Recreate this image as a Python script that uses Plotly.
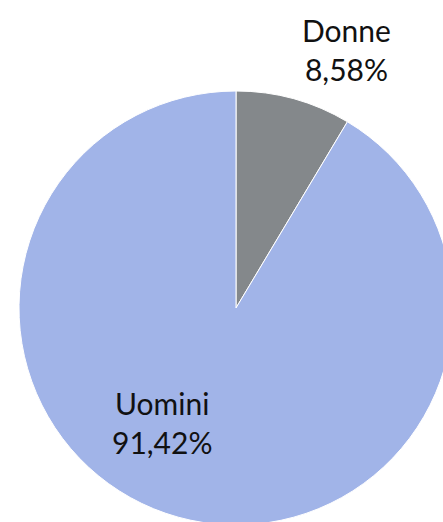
import plotly.graph_objects as go

labels = ["Donne", "Uomini"]
values = [8.58, 91.42]
colors = ["#84888b", "#a1b4e8"]
label_text = ["Donne<br>8,58%", "Uomini<br>91,42%"]

# Figure is larger than the viewport so the pie can overflow the edges like the reference
W, H = 472, 616
cx, cy, r = 236, 308, 217

fig = go.Figure(go.Pie(
    labels=labels,
    values=values,
    sort=False,
    direction="clockwise",
    rotation=0,
    marker=dict(colors=colors, line=dict(color="white", width=1)),
    textinfo="none",
    hoverinfo="label+percent",
    domain=dict(x=[(cx - r) / W, (cx + r) / W], y=[1 - (cy + r) / H, 1 - (cy - r) / H]),
    showlegend=False,
))

font = dict(family="Lato, 'Open Sans', sans-serif", size=30, color="#111111")
positions = [(346, 49), (162, 422)]
for txt, (px, py) in zip(label_text, positions):
    fig.add_annotation(x=px / W, y=1 - py / H, xref="paper", yref="paper",
                       text=txt, showarrow=False, font=font,
                       xanchor="center", yanchor="middle", align="center")

fig.update_layout(width=W, height=H, margin=dict(l=0, r=0, t=0, b=0),
                  paper_bgcolor="white", plot_bgcolor="white")

fig.write_html("out.html", config={"displayModeBar": False},
               post_script="document.body.style.margin='0';document.body.style.overflow='hidden';")
